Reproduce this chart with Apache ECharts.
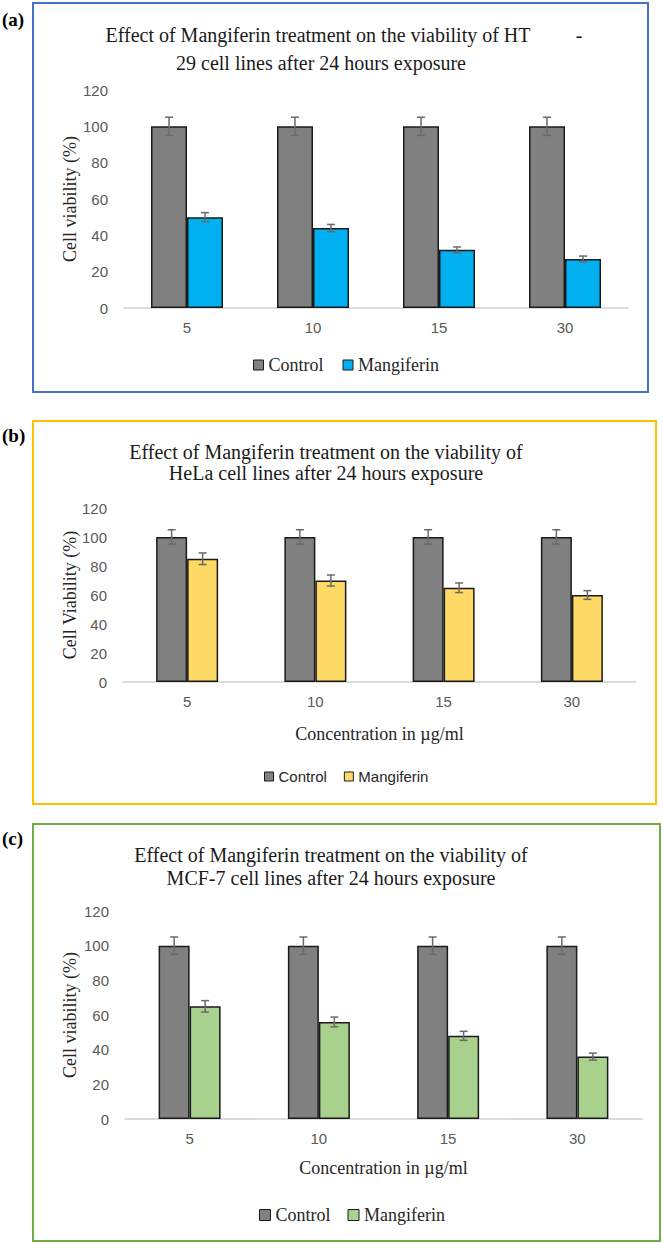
<!DOCTYPE html>
<html>
<head>
<meta charset="utf-8">
<script src="https://cdn.jsdelivr.net/npm/echarts@6/dist/echarts.min.js"></script>
<style>
html,body{margin:0;padding:0;background:#fff;}
#chart{width:663px;height:1243px;}
</style>
</head>
<body>
<div id="chart"></div>
<script>
// ---- data ----
const categories = ['5', '10', '15', '30'];
const controlValues = [100, 100, 100, 100];
const controlErrors = [5, 5, 5, 5];
const htValues = [50, 44, 32, 27];
const htErrors = [2.5, 2, 1.6, 1.6];
const helaValues = [85, 70, 65, 60];
const helaErrors = [4, 3.8, 3.3, 3];
const mcfValues = [65, 56, 48, 36];
const mcfErrors = [3.3, 2.8, 2.6, 2];
const seriesNames = ['Control', 'Mangiferin'];
const panelLabels = ['(a)', '(b)', '(c)'];
const titleLinesA = ['Effect of Mangiferin treatment on the viability of HT', '29 cell lines after 24 hours exposure'];
const titleDashA = '-';
const titleLinesB = ['Effect of Mangiferin treatment on the viability of', 'HeLa cell lines after 24 hours exposure'];
const titleLinesC = ['Effect of Mangiferin treatment on the viability of', 'MCF-7 cell lines after 24 hours exposure'];
const yNames = ['Cell viability (%)', 'Cell Viability (%)', 'Cell viability (%)'];
const xName = 'Concentration in \u00b5g/ml';

// ---- style / layout ----
const SERIF = '"Liberation Serif", "Times New Roman", serif';
const SANS = '"Liberation Sans", Arial, sans-serif';
const controlColor = '#808080';
const errColor = '#6a6a6a';

const panels = [
  {
    box: {x: 33, y: 3, w: 615, h: 389, color: '#4472c4'},
    label: {x: 2, y: 19},
    titles: [{t: titleLinesA[0], x: 318, y: 35}, {t: titleLinesA[1], x: 321, y: 63}],
    grid: {left: 124, top: 90, width: 504, height: 218},
    barWidth: 36,
    mValues: htValues, mErrors: htErrors, mColor: '#00b0f0',
    xName: null,
    legend: {left: 253, top: 356, gap: 19, font: SERIF, size: 18, icon: 10},
    yName: yNames[0], yNameGap: 45
  },
  {
    box: {x: 33, y: 421, w: 623, h: 383, color: '#ffc000'},
    label: {x: 2, y: 435},
    titles: [{t: titleLinesB[0], x: 326, y: 452}, {t: titleLinesB[1], x: 326, y: 473}],
    grid: {left: 123, top: 508, width: 513, height: 174},
    barWidth: 31,
    mValues: helaValues, mErrors: helaErrors, mColor: '#ffd966',
    xName: xName, xNameGap: 43,
    legend: {left: 264, top: 769, gap: 17, font: SANS, size: 15, icon: 9},
    yName: yNames[1], yNameGap: 44
  },
  {
    box: {x: 33, y: 824, w: 627, h: 417, color: '#70ad47'},
    label: {x: 2, y: 838},
    titles: [{t: titleLinesC[0], x: 331, y: 855}, {t: titleLinesC[1], x: 331, y: 878}],
    grid: {left: 125, top: 911, width: 517, height: 208},
    barWidth: 31,
    mValues: mcfValues, mErrors: mcfErrors, mColor: '#a9d18e',
    xName: xName, xNameGap: 40,
    legend: {left: 259, top: 1206, gap: 17, font: SERIF, size: 18, icon: 11},
    yName: yNames[2], yNameGap: 46
  }
];

function errRender(barW, sign) {
  return function (params, api) {
    const i = api.value(0), v = api.value(1), e = api.value(2);
    const top = api.coord([i, v + e]);
    const bot = api.coord([i, v - e]);
    const x = top[0] + sign * barW / 2;
    const cap = 4;
    const st = {stroke: errColor, lineWidth: 1.5};
    return {
      type: 'group',
      children: [
        {type: 'line', shape: {x1: x, y1: top[1], x2: x, y2: bot[1]}, style: st},
        {type: 'line', shape: {x1: x - cap, y1: top[1], x2: x + cap, y2: top[1]}, style: st},
        {type: 'line', shape: {x1: x - cap, y1: bot[1], x2: x + cap, y2: bot[1]}, style: st}
      ]
    };
  };
}

const grid = [], xAxis = [], yAxis = [], series = [], legend = [], graphic = [];

panels.forEach((p, k) => {
  graphic.push({type: 'rect', shape: {x: p.box.x, y: p.box.y, width: p.box.w, height: p.box.h},
    style: {fill: 'none', stroke: p.box.color, lineWidth: 2}, z: 0});
  graphic.push({type: 'text', x: p.label.x, y: p.label.y,
    style: {text: panelLabels[k], fill: '#000', font: 'bold 19px ' + SERIF, align: 'left', verticalAlign: 'middle'}});
  p.titles.forEach(tl => {
    graphic.push({type: 'text', x: tl.x, y: tl.y,
      style: {text: tl.t, fill: '#1a1a1a', font: '20px ' + SERIF, align: 'center', verticalAlign: 'middle'}});
  });
  if (k === 0) {
    graphic.push({type: 'text', x: 579, y: 35,
      style: {text: titleDashA, fill: '#1a1a1a', font: '20px ' + SERIF, align: 'center', verticalAlign: 'middle'}});
  }

  grid.push(Object.assign({containLabel: false, outerBoundsMode: 'none'}, p.grid));
  xAxis.push({
    type: 'category', gridIndex: k, data: categories,
    axisLine: {lineStyle: {color: '#d0d0d0', width: 1.5}},
    axisTick: {show: false},
    axisLabel: {color: '#595959', fontFamily: SANS, fontSize: 15, margin: 12},
    name: p.xName || '', nameLocation: 'middle', nameGap: p.xNameGap || 0,
    nameMoveOverlap: false,
    nameTextStyle: {color: '#262626', fontFamily: SERIF, fontSize: 18}
  });
  yAxis.push({
    type: 'value', gridIndex: k, min: 0, max: 120, interval: 20,
    axisLine: {show: false}, axisTick: {show: false}, splitLine: {show: false},
    axisLabel: {color: '#595959', fontFamily: SANS, fontSize: 15, margin: 16},
    name: p.yName, nameLocation: 'middle', nameGap: p.yNameGap,
    nameMoveOverlap: false,
    nameTextStyle: {color: '#262626', fontFamily: SERIF, fontSize: 18}
  });
  series.push({
    type: 'bar', name: seriesNames[0], xAxisIndex: k, yAxisIndex: k,
    data: controlValues, barWidth: p.barWidth, barGap: '0%',
    itemStyle: {color: controlColor, borderColor: '#1a1a1a', borderWidth: 1.5}
  });
  series.push({
    type: 'bar', name: seriesNames[1], xAxisIndex: k, yAxisIndex: k,
    data: p.mValues, barWidth: p.barWidth, barGap: '0%',
    itemStyle: {color: p.mColor, borderColor: '#1a1a1a', borderWidth: 1.5}
  });
  series.push({
    type: 'custom', xAxisIndex: k, yAxisIndex: k, silent: true, z: 5,
    renderItem: errRender(p.barWidth, -1),
    encode: {x: 0, y: 1},
    data: categories.map((c, i) => [i, controlValues[i], controlErrors[i]])
  });
  series.push({
    type: 'custom', xAxisIndex: k, yAxisIndex: k, silent: true, z: 5,
    renderItem: errRender(p.barWidth, 1),
    encode: {x: 0, y: 1},
    data: categories.map((c, i) => [i, p.mValues[i], p.mErrors[i]])
  });
  legend.push({
    left: p.legend.left, top: p.legend.top, padding: 0, orient: 'horizontal',
    icon: 'rect', itemWidth: p.legend.icon, itemHeight: p.legend.icon, itemGap: p.legend.gap,
    selectedMode: false,
    textStyle: {fontFamily: p.legend.font, fontSize: p.legend.size, color: '#262626'},
    data: [
      {name: seriesNames[0], itemStyle: {color: controlColor, borderColor: '#1a1a1a', borderWidth: 1}},
      {name: seriesNames[1], itemStyle: {color: p.mColor, borderColor: '#1a1a1a', borderWidth: 1}}
    ]
  });
});

const chart = echarts.init(document.getElementById('chart'), null, {renderer: 'svg'});
chart.setOption({
  animation: false,
  backgroundColor: '#fff',
  grid, xAxis, yAxis, series, legend, graphic
});
</script>
</body>
</html>
